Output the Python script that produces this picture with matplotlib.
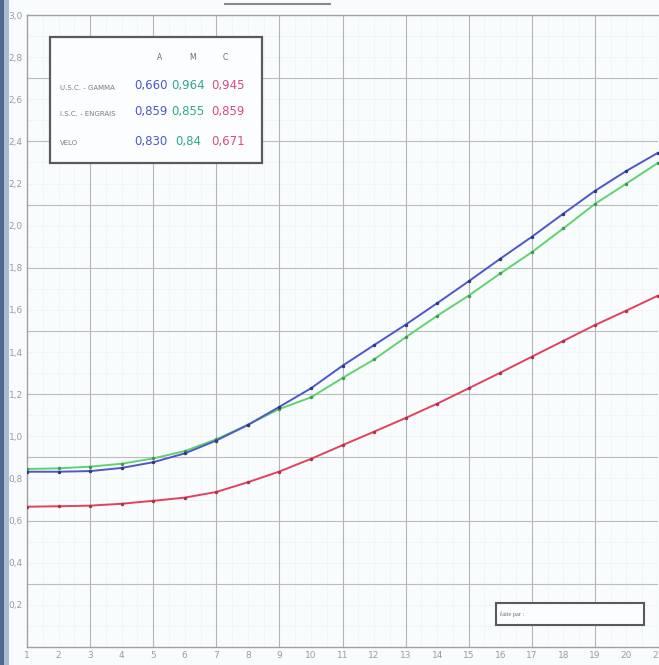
import matplotlib
matplotlib.use("Agg")
import matplotlib.pyplot as plt
from matplotlib.patches import Rectangle
from matplotlib.lines import Line2D
import numpy as np

# ---------------- data ----------------
x_vals = list(range(1, 22))
blue_vals = [0.832, 0.832, 0.835, 0.850, 0.877, 0.919, 0.980, 1.054, 1.140, 1.228,
             1.335, 1.433, 1.530, 1.632, 1.736, 1.843, 1.947, 2.057, 2.165, 2.260, 2.346]
green_vals = [0.845, 0.848, 0.856, 0.870, 0.895, 0.930, 0.986, 1.055, 1.130, 1.185,
              1.277, 1.365, 1.470, 1.572, 1.668, 1.773, 1.874, 1.987, 2.103, 2.200, 2.298]
red_vals = [0.666, 0.668, 0.671, 0.680, 0.694, 0.709, 0.736, 0.782, 0.833, 0.893,
            0.958, 1.022, 1.087, 1.155, 1.228, 1.302, 1.378, 1.453, 1.528, 1.597, 1.668]

x_tick_labels = [str(i) for i in range(1, 22)]
y_ticks = [0.2, 0.4, 0.6, 0.8, 1.0, 1.2, 1.4, 1.6, 1.8, 2.0, 2.2, 2.4, 2.6, 2.8, 3.0]
y_tick_labels = ["0,2", "0,4", "0,6", "0,8", "1,0", "1,2", "1,4", "1,6", "1,8", "2,0",
                 "2,2", "2,4", "2,6", "2,8", "3,0"]

legend_cols = ["A", "M", "C"]
legend_rows = ["U.S.C. - GAMMA", "I.S.C. - ENGRAIS", "VELO"]
legend_values = [["0,660", "0,964", "0,945"],
                 ["0,859", "0,855", "0,859"],
                 ["0,830", "0,84", "0,671"]]
footer_text = "faite par :"

# ---------------- styles ----------------
C_BLUE = "#4f56c9"
C_GREEN = "#5fd36f"
C_RED = "#e2415e"
C_PINK = "#d64a8a"
C_TEAL = "#2fa890"
W, H = 659, 665

fig = plt.figure(figsize=(W / 100, H / 100), dpi=100)
fig.patch.set_facecolor("#f9fcfd")

def px(xp, yp):
    return xp / W, 1 - yp / H

left = 27 / W
bottom = 1 - 647 / H
width = (658 - 27) / W
height = (647 - 15) / H
ax = fig.add_axes([left, bottom, width, height])
ax.set_facecolor("#f9fcfd")
ax.set_xlim(1, 21)
ax.set_ylim(0, 3.0)

# minor grid (very faint)
for xv in np.arange(1.5, 21.01, 0.5):
    ax.axvline(xv, color="#eef3f7", lw=0.5, zorder=0)
for yv in np.arange(0.1, 3.0, 0.1):
    ax.axhline(yv, color="#eef3f7", lw=0.5, zorder=0)
# major grid
for xv in range(3, 22, 2):
    ax.axvline(xv, color="#b4b4b8", lw=0.8, zorder=1)
for yv in np.arange(0.3, 3.0, 0.3):
    ax.axhline(yv, color="#bcbcc0", lw=0.8, zorder=1)

ax.spines["right"].set_visible(False)
for s in ["left", "bottom", "top"]:
    ax.spines[s].set_color("#a0a0a4")
    ax.spines[s].set_linewidth(1.0)

ax.set_xticks(x_vals)
ax.set_xticklabels(x_tick_labels)
ax.set_yticks(y_ticks)
ax.set_yticklabels(y_tick_labels)
ax.tick_params(axis="both", length=0, labelsize=6.5, colors="#9a9aa0")
ax.tick_params(axis="y", pad=3)
ax.tick_params(axis="x", pad=3)

# curves
ax.plot(x_vals, red_vals, color=C_RED, lw=1.4, marker="o", ms=1.5, mfc="#b03048", mec="#b03048", zorder=4)
ax.plot(x_vals, green_vals, color=C_GREEN, lw=1.4, marker="o", ms=1.5, mfc="#3f9a55", mec="#3f9a55", zorder=4)
ax.plot(x_vals, blue_vals, color=C_BLUE, lw=1.4, marker="o", ms=1.5, mfc="#303880", mec="#303880", zorder=5)

# legend box
lx0, ly0, lx1, ly1 = 50, 37, 262, 163
fig.patches.append(Rectangle(px(lx0, ly1), (lx1 - lx0) / W, (ly1 - ly0) / H,
                             transform=fig.transFigure, facecolor="#fbfdfe",
                             edgecolor="#5a5a5e", lw=1.6, zorder=10))
for txt, xp in zip(legend_cols, [160, 193, 225]):
    fig.text(*px(xp, 57), txt, fontsize=5.5, color="#6a6a70", ha="center", va="center", zorder=11)
row_y = [88, 114, 143]
for txt, yp in zip(legend_rows, row_y):
    fig.text(*px(60, yp), txt, fontsize=5, color="#7a7a80", ha="left", va="center", zorder=11)
val_colors = [C_BLUE, C_TEAL, C_PINK]
val_x = [151, 188, 228]
for r, yp in enumerate(row_y):
    for c in range(3):
        fig.text(*px(val_x[c], yp - 2), legend_values[r][c], fontsize=8.5,
                 color=val_colors[c], ha="center", va="center", zorder=11,
                 family=["Liberation Sans Narrow", "DejaVu Sans"])

# footer box
fig.patches.append(Rectangle(px(496, 625), (644 - 496) / W, (625 - 603) / H,
                             transform=fig.transFigure, facecolor="#fbfdfe",
                             edgecolor="#5a5a5e", lw=1.5, zorder=10))
fig.text(*px(500, 614), footer_text, fontsize=4.5, color="#6a6a70",
         ha="left", va="center", family="Liberation Serif", zorder=11)

# scan edge band on the left
fig.patches.append(Rectangle((0, 0), 4 / W, 1, transform=fig.transFigure,
                             facecolor="#4f6a90", edgecolor="none", zorder=20))
fig.patches.append(Rectangle((4 / W, 0), 5 / W, 1, transform=fig.transFigure,
                             facecolor="#a9bdd2", edgecolor="none", zorder=20))
# faint scan mark at top
fig.lines.append(Line2D([225 / W, 330 / W], [1 - 4 / H, 1 - 4 / H], transform=fig.transFigure,
                        color="#8a8a8e", lw=1.5, zorder=20))

fig.savefig("out.png", dpi=100, facecolor=fig.get_facecolor())
